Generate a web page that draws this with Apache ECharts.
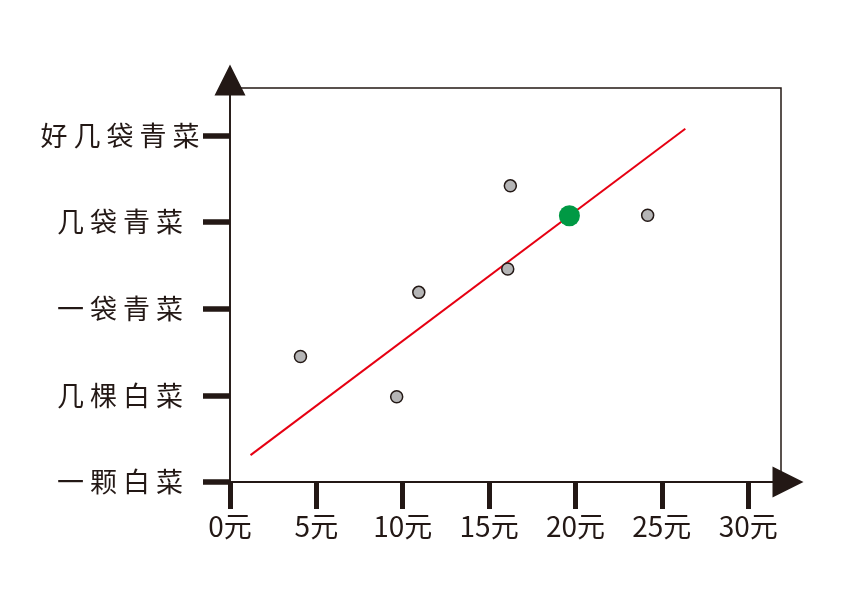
<!DOCTYPE html>
<html>
<head>
<meta charset="utf-8">
<style>
  html, body { margin: 0; padding: 0; background: #fff; }
  #chart { width: 867px; height: 608px; }
</style>
<script src="https://cdn.jsdelivr.net/npm/echarts@6/dist/echarts.min.js"></script>
</head>
<body>
<div id="chart"></div>
<script>
// y轴分类（从下到上）
const categories = ['一颗白菜', '几棵白菜', '一袋青菜', '几袋青菜', '好几袋青菜']
// x轴刻度
const priceTicks = [0, 5, 10, 15, 20, 25, 30]
// 灰色散点
const grayX = [4.08, 9.65, 10.93, 16.08, 16.23, 24.18]
const grayY = [1.45, 0.985, 2.19, 2.46, 3.42, 3.08]
// 绿色大点
const greenPoint = [19.65, 3.075]
// 红色趋势线两端
const trendX = [1.19, 26.36]
const trendY = [0.31, 4.08]

const ink = '#231815'
const font = '"Noto Sans CJK SC", "Noto Sans", sans-serif'

let myChart = echarts.init(document.getElementById('chart'))

myChart.setOption({
  animation: false,
  grid: {
    left: 230,
    right: 86,
    top: 88,
    bottom: 126,
    show: true,
    borderColor: ink,
    borderWidth: 1.5,
    backgroundColor: 'transparent',
  },
  xAxis: {
    type: 'value',
    min: 0,
    max: 31.9,
    interval: 5,
    splitLine: { show: false },
    axisLine: {
      lineStyle: { color: ink, width: 2 },
      symbol: ['none', 'triangle'],
      symbolSize: [31, 31],
      symbolOffset: [0, 7],
    },
    axisTick: {
      customValues: priceTicks,
      length: 27,
      lineStyle: { color: ink, width: 5 },
    },
    axisLabel: {
      customValues: priceTicks,
      margin: 30,
      color: ink,
      fontSize: 28,
      fontFamily: font,
      formatter: (v) => v + '元',
    },
  },
  yAxis: {
    type: 'value',
    min: 0,
    max: 4.55,
    interval: 1,
    splitLine: { show: false },
    axisLine: {
      lineStyle: { color: ink, width: 1.7 },
      symbol: ['none', 'triangle'],
      symbolSize: [31, 31],
      symbolOffset: [0, 8],
    },
    axisTick: {
      customValues: [0, 1, 2, 3, 4],
      length: 27,
      lineStyle: { color: ink, width: 5.5 },
    },
    axisLabel: {
      customValues: [0, 1, 2, 3, 4],
      margin: 110,
      align: 'center',
      color: ink,
      fontSize: 27,
      fontFamily: font,
      formatter: (v) => (categories[Math.round(v)] || '').split('').join(' '),
    },
  },
  series: [
    {
      type: 'line',
      data: trendX.map((x, i) => [x, trendY[i]]),
      symbol: 'none',
      lineStyle: { color: '#e60012', width: 2 },
      z: 2,
    },
    {
      type: 'scatter',
      data: grayX.map((x, i) => [x, grayY[i]]),
      symbolSize: 12,
      itemStyle: { color: '#b5b5b6', borderColor: ink, borderWidth: 1.5, opacity: 1 },
      z: 3,
    },
    {
      type: 'scatter',
      data: [greenPoint],
      symbolSize: 21,
      itemStyle: { color: '#009944', opacity: 1 },
      z: 4,
    },
  ],
})
</script>
</body>
</html>
